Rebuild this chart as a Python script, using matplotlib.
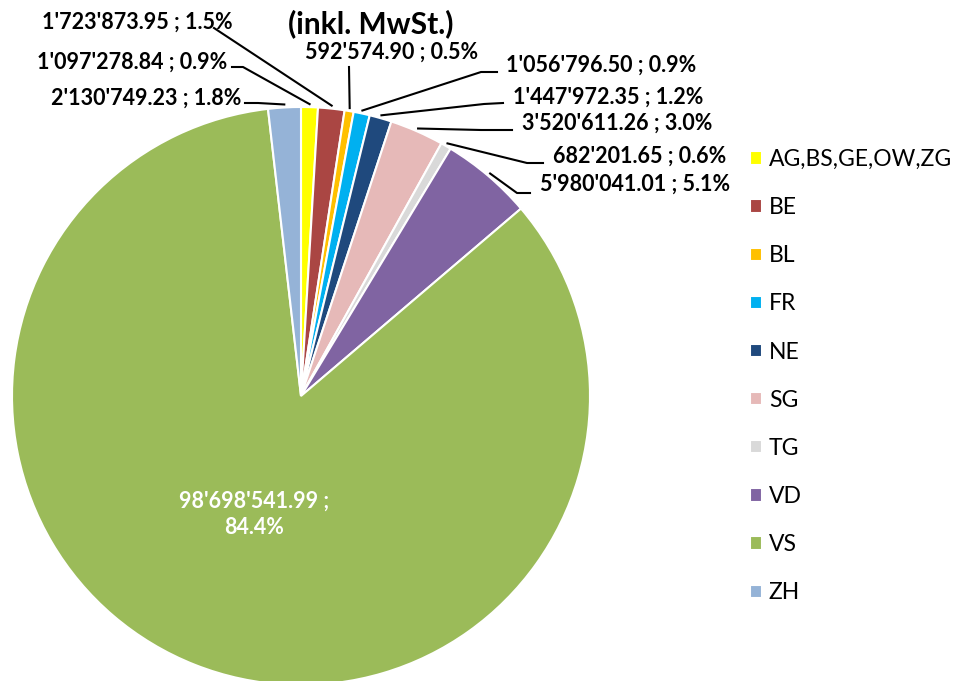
import numpy as np
import matplotlib.pyplot as plt

kantone = ['AG,BS,GE,OW,ZG', 'BE', 'BL', 'FR', 'NE', 'SG', 'TG', 'VD', 'VS', 'ZH']
betraege = [1097278.84, 1723873.95, 592574.90, 1056796.50, 1447972.35,
            3520611.26, 682201.65, 5980041.01, 98698541.99, 2130749.23]
farben = ['#FFFF00', '#AA4643', '#FFC000', '#00B0F0', '#1F497D',
          '#E6B9B8', '#D9D9D9', '#8064A2', '#9BBB59', '#95B3D7']

W, H = 960, 681
plt.rcParams['font.family'] = ['Lato', 'DejaVu Sans']


def px(x, y):
    # Pixelkoordinaten (y nach unten) -> Datenkoordinaten
    return x, H - y


def fmt(v):
    return f"{v:,.2f}".replace(',', "'")


fig = plt.figure(figsize=(W / 100, H / 100), dpi=100)
ax = fig.add_axes([0, 0, 1, 1])

cx, cy = px(301, 396)
R = 289
wedges, _ = ax.pie(betraege, colors=farben, startangle=90, counterclock=False,
                   center=(cx, cy), radius=R,
                   wedgeprops=dict(edgecolor='white', linewidth=1.5))
ax.set_xlim(0, W)
ax.set_ylim(0, H)
ax.set_aspect('equal')
ax.axis('off')

total = sum(betraege)

# Beschriftungen: Textposition (px), Ausrichtung, Knickpunkte der Linie (px)
layout = {
    'AG,BS,GE,OW,ZG': ((227, 62), 'right', [(232, 67), (243, 67)]),
    'BE': ((233, 22), 'right', [(214, 28)]),
    'BL': ((392, 52), 'center', [(349, 67)]),
    'FR': ((506, 65), 'left', [(497, 72), (481, 72)]),
    'NE': ((513, 97), 'left', [(503, 103), (484, 104)]),
    'SG': ((522, 123), 'left', [(512, 130), (481, 130)]),
    'TG': ((553, 156), 'left', [(543, 163), (527, 163)]),
    'VD': ((540, 184), 'left', [(530, 193), (517, 193)]),
    'ZH': ((241, 98), 'right', [(245, 103), (258, 103)]),
}

for w, name, v in zip(wedges, kantone, betraege):
    pct = v / total * 100
    mid = np.deg2rad((w.theta1 + w.theta2) / 2)
    if name == 'VS':
        tx = cx + 0.44 * R * np.cos(mid)
        ty = cy + 0.44 * R * np.sin(mid)
        ax.text(tx, ty, f"{fmt(v)} ;\n{pct:.1f}%", color='white', fontsize=15.5,
                fontweight='bold', ha='center', va='center', linespacing=1.35)
        continue
    (tx, ty), ha, knicke = layout[name]
    ax.text(*px(tx, ty), f"{fmt(v)} ; {pct:.1f}%", fontsize=15.5, fontweight='bold',
            ha=ha, va='center')
    ex = cx + (R + 3) * np.cos(mid)
    ey = cy + (R + 3) * np.sin(mid)
    pts = [px(*p) for p in knicke] + [(ex, ey)]
    xs, ys = zip(*pts)
    ax.plot(xs, ys, color='black', lw=1.5)

ax.text(*px(371, 24), '(inkl. MwSt.)', fontsize=21.5, fontweight='bold',
        ha='center', va='center')

ax.legend(wedges, kantone, loc='upper left', bbox_to_anchor=(750 / W, 1 - 149 / H),
          frameon=False, fontsize=16.5, handlelength=0.52, handleheight=0.52,
          handletextpad=0.3, labelspacing=1.185, borderpad=0, borderaxespad=0)

fig.savefig('out.png', dpi=100)
